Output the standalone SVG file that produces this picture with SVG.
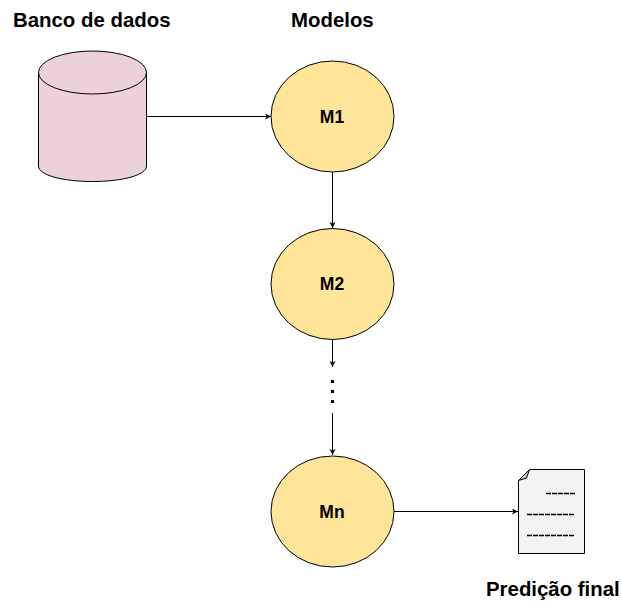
<svg xmlns="http://www.w3.org/2000/svg" width="622" height="603" viewBox="0 0 622 603">
<style>
text{font-family:"Liberation Sans",Arial,sans-serif;font-weight:bold;fill:#000}
.t{font-size:20.4px}
.m{font-size:17.5px;text-anchor:middle}
.e{fill:#FFE599;stroke:#000;stroke-width:1}
.c{fill:none;stroke:#000;stroke-width:1}
</style>
<defs><marker id="a" markerWidth="8" markerHeight="8" refX="6" refY="3" orient="auto" markerUnits="userSpaceOnUse"><path d="M0 0L6 3L0 6L1.5 3Z" fill="#000"/></marker></defs>
<rect width="622" height="603" fill="#fff"/>
<g id="connectors">
<path class="c" d="M146.500 116.500H271" marker-end="url(#a)"/>
<path class="c" d="M332.500 172V228" marker-end="url(#a)"/>
<path class="c" d="M332.500 340V367" marker-end="url(#a)"/>
<path class="c" d="M332.500 413V455" marker-end="url(#a)"/>
<path class="c" d="M394 511.500H518" marker-end="url(#a)"/>
</g>
<g id="database">
<path d="M38.500 72.500V166C38.500 175 62 181.500 92.500 181.500S146.500 175 146.500 166V72.500Z" fill="#EAD1DC" stroke="#000"/>
<ellipse cx="92.500" cy="72.500" rx="54" ry="21.500" fill="#EAD1DC" stroke="#000"/>
</g>
<g id="m1"><ellipse class="e" cx="332.500" cy="116.500" rx="61.500" ry="55.500"/><text class="m" x="332" y="123">M1</text></g>
<g id="m2"><ellipse class="e" cx="332.500" cy="284" rx="61.500" ry="55.500"/><text class="m" x="332" y="290">M2</text></g>
<g id="mn"><ellipse class="e" cx="332.500" cy="511.500" rx="61.500" ry="55.500"/><text class="m" x="332" y="518">Mn</text></g>
<g id="dots"><rect x="331" y="380" width="3" height="3"/><rect x="331" y="390" width="3" height="3"/><rect x="331" y="400" width="3" height="3"/></g>
<g id="document">
<path d="M529.500 469.500H584.500V553.500H518.500V480.500Z" fill="#F3F3F3" stroke="#000"/>
<path d="M518.500 480.500L529.500 469.500L526.500 478Z" fill="#CCCCCC" stroke="#000"/>
<path d="M546 493.500H575M527 514.500H575M527 535.500H575" stroke="#000" stroke-width="1.500" stroke-dasharray="5 1" fill="none"/>
</g>
<g id="labels">
<text class="t" x="13" y="27">Banco de dados</text>
<text class="t" x="291" y="27">Modelos</text>
<text class="t" x="486" y="596">Predição final</text>
</g>
</svg>
